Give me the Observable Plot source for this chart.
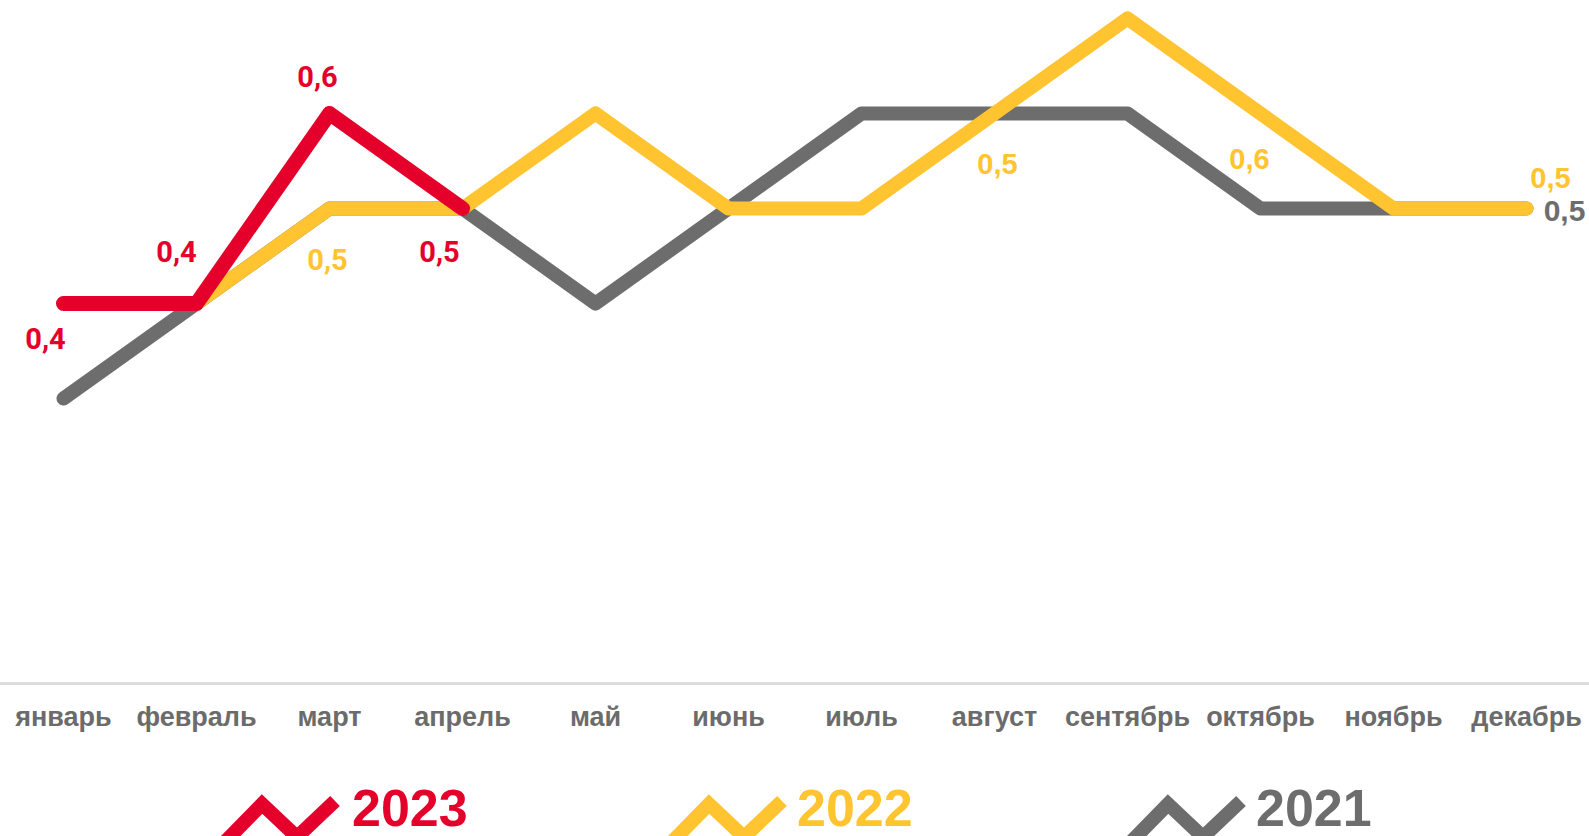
<!DOCTYPE html>
<html>
<head>
<meta charset="utf-8">
<script src="https://cdn.jsdelivr.net/npm/d3@7"></script>
<script src="https://cdn.jsdelivr.net/npm/@observablehq/plot@0.6"></script>
<style>
  html, body { margin: 0; padding: 0; background: #fff; overflow: hidden; width: 1589px; height: 836px; }
  #chart svg { display: block; }
  #legend { display: block; }
</style>
</head>
<body>
<div id="chart"></div>
<svg id="legend" width="1589" height="76"></svg>
<script>
// ---- data ----
const months = ["январь","февраль","март","апрель","май","июнь","июль","август","сентябрь","октябрь","ноябрь","декабрь"];
const years = ["2023","2022","2021"];
const values2023 = [0.4, 0.4, 0.6, 0.5];
const values2022 = [0.4, 0.4, 0.5, 0.5, 0.6, 0.5, 0.5, 0.6, 0.7, 0.6, 0.5, 0.5];
const values2021 = [0.3, 0.4, 0.5, 0.5, 0.4, 0.5, 0.6, 0.6, 0.6, 0.5, 0.5, 0.5];
const labelMonths2023 = ["январь","февраль","март","апрель"];
const labelTexts2023 = ["0,4","0,4","0,6","0,5"];
const labelMonths2022 = ["март","август","октябрь","декабрь"];
const labelTexts2022 = ["0,5","0,5","0,6","0,5"];
const labelMonths2021 = ["декабрь"];
const labelTexts2021 = ["0,5"];

// ---- styling / layout ----
const colors = {"2023": "#e4002b", "2022": "#ffc430", "2021": "#6d6d6d"};
const offs2023 = [[-18, 36], [-20, -51], [-12, -36], [-23, 44]];
const offs2022 = [[-2, 52], [3, 51], [-11, 46], [24, -30]];
const offs2021 = [[38, 3]];
const fonts2022 = ["Roboto", "Liberation Sans", "Liberation Sans", "Liberation Sans"];

const series = (vals, year) => vals.map((v, i) => ({month: months[i], value: v, year}));
const d2023 = series(values2023, "2023");
const d2022 = series(values2022, "2022");
const d2021 = series(values2021, "2021");

const valueOf = (vals, m) => vals[months.indexOf(m)];

function labelMarks(ms, texts, vals, offs, color, fontsFor, size) {
  return ms.map((m, i) => Plot.text([{month: m, value: valueOf(vals, m), text: texts[i]}], {
    x: "month", y: "value", text: "text",
    dx: offs[i][0], dy: offs[i][1],
    fill: color, fontSize: size, fontWeight: "bold",
    fontFamily: fontsFor(i), textAnchor: "middle", lineAnchor: "middle"
  }));
}

const lineOpts = (color, w) => ({x: "month", y: "value", stroke: color, strokeWidth: w,
  strokeLinecap: "round", strokeLinejoin: "round"});

const plot = Plot.plot({
  width: 1589,
  height: 760,
  marginTop: 18,
  marginBottom: 77,
  marginLeft: 0,
  marginRight: 0,
  style: {fontFamily: "'Liberation Sans', Arial, sans-serif", background: "#fff", overflow: "visible"},
  x: {type: "point", domain: months, range: [58, 1530], padding: 0},
  y: {domain: [0, 0.7], axis: null},
  marks: [
    Plot.ruleY([0], {stroke: "#dcdcdc", strokeWidth: 3}),
    Plot.axisX({tickSize: 0, tickPadding: 23, fontSize: 27, fontWeight: "bold", fill: "#6b6b6b", label: null}),
    Plot.line(d2021, lineOpts(colors["2021"], 14)),
    Plot.line(d2022, lineOpts(colors["2022"], 14)),
    Plot.line(d2023, lineOpts(colors["2023"], 15)),
    ...labelMarks(labelMonths2023, labelTexts2023, values2023, offs2023, colors["2023"], () => "Roboto", 29),
    ...labelMarks(labelMonths2022, labelTexts2022, values2022, offs2022, colors["2022"], i => fonts2022[i], 29),
    ...labelMarks(labelMonths2021, labelTexts2021, values2021, offs2021, colors["2021"], () => "'Liberation Sans'", 30)
  ]
});
document.getElementById("chart").appendChild(plot);

// ---- legend (below the plot SVG) ----
const legend = d3.select("#legend");
const legendX = {"2023": [222, 352], "2022": [669, 797], "2021": [1128, 1256]};
years.forEach(y => {
  const [ix, tx] = legendX[y];
  const g = legend.append("g");
  g.append("polyline")
    .attr("points", [[ix, 85], [ix + 40, 44], [ix + 75, 77], [ix + 113, 41]].map(p => p.join(",")).join(" "))
    .attr("fill", "none").attr("stroke", colors[y]).attr("stroke-width", 14)
    .attr("stroke-linejoin", "miter").attr("stroke-linecap", "butt");
  g.append("text").attr("x", tx).attr("y", 66)
    .attr("fill", colors[y]).attr("font-size", 52).attr("font-weight", "bold")
    .attr("font-family", "'Liberation Sans', Arial, sans-serif")
    .text(y);
});
</script>
</body>
</html>
